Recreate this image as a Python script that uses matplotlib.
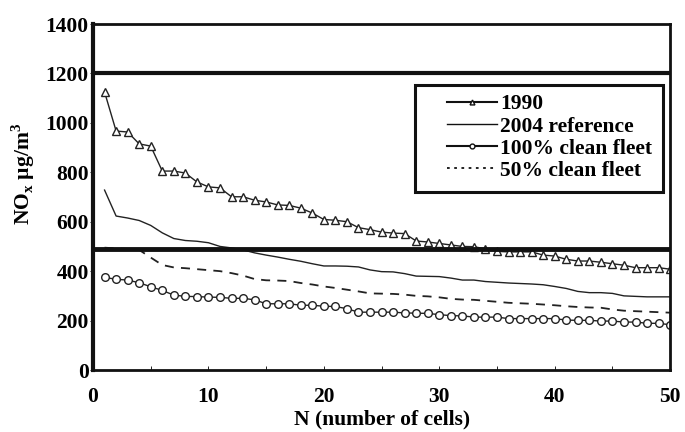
import numpy as np
import matplotlib
matplotlib.use('Agg')
import matplotlib.pyplot as plt
from matplotlib.lines import Line2D
from matplotlib.patches import Rectangle

plt.rcParams['font.family'] = 'Liberation Serif'
plt.rcParams['font.weight'] = 'bold'
plt.rcParams['mathtext.fontset'] = 'custom'
plt.rcParams['mathtext.rm'] = 'Liberation Serif:bold'

n = np.arange(1, 51)
y1990 = [1125, 967, 963, 915, 906, 805, 805, 797, 761, 741,
         737, 701, 701, 687, 680, 668, 666, 655, 635, 609,
         606, 600, 576, 568, 558, 554, 552, 522, 518, 512,
         506, 500, 499, 490, 480, 478, 478, 478, 465, 461,
         448, 441, 441, 436, 430, 424, 414, 414, 414, 408]
y2004 = [728, 623, 615, 605, 585, 555, 532, 524, 521, 515,
         500, 494, 486, 474, 465, 457, 448, 440, 430, 421,
         421, 420, 417, 405, 398, 397, 390, 380, 379, 378,
         372, 364, 364, 358, 355, 352, 350, 348, 345, 338,
         330, 318, 313, 313, 310, 300, 298, 296, 296, 296]
clean100 = [375, 367, 364, 353, 337, 322, 303, 298, 297, 295,
            294, 290, 290, 284, 268, 268, 268, 262, 262, 258,
            257, 248, 234, 234, 234, 234, 231, 230, 229, 224,
            220, 219, 214, 214, 214, 208, 208, 208, 208, 208,
            202, 201, 201, 198, 198, 194, 194, 189, 189, 183]
clean50 = [495, 492, 490, 486, 455, 425, 415, 412, 408, 404,
           400, 392, 382, 368, 363, 362, 360, 352, 346, 338,
           332, 325, 318, 310, 309, 308, 305, 300, 298, 294,
           288, 285, 284, 280, 276, 272, 270, 268, 265, 262,
           258, 255, 253, 252, 245, 240, 238, 236, 234, 232]
limits = [1200, 490]

fs = 15.5
fig = plt.figure(figsize=(6.85, 4.32), dpi=100)
ax = fig.add_axes([0.1358, 0.1435, 0.8425, 0.8009])

ax.plot(n, y1990, color='#222222', lw=1.0, marker='^', ms=6, mfc='white', mec='#222222', mew=1.0)
ax.plot(n, y2004, color='#222222', lw=1.0)
ax.plot(n, clean100, color='#222222', lw=1.0, marker='o', ms=5.5, mfc='white', mec='#222222', mew=1.0)
ax.plot(n, clean50, color='#222222', lw=1.3, ls=(0, (5, 4)))
for lv in limits:
    ax.axhline(lv, color='#111111', lw=3.5 if lv < 1000 else 3.0, xmin=0.004, zorder=3)

ax.set_xlim(0, 50)
ax.set_ylim(0, 1400)
ax.set_xticks(np.arange(0, 51, 10))
ax.set_xticks(np.arange(0, 51, 5), minor=True)
ax.set_yticks(np.arange(0, 1401, 200))
ax.tick_params(axis='x', which='both', direction='in', length=3, width=0.6, pad=12, labelsize=fs)
ax.tick_params(axis='y', direction='out', length=2, width=0.6, labelsize=fs, pad=1)
for lab in ax.get_xticklabels() + ax.get_yticklabels():
    lab.set_fontweight('bold')

ax.spines['left'].set_linewidth(3.0)
ax.spines['bottom'].set_linewidth(2.0)
ax.spines['top'].set_linewidth(2.0)
ax.spines['right'].set_linewidth(2.0)
for s in ax.spines.values():
    s.set_color('#111111')

ax.set_xlabel('N (number of cells)', fontsize=fs, fontweight='bold', labelpad=2)
ax.set_ylabel(r'NO$_\mathregular{x}$ µg/m$^\mathregular{3}$', fontsize=fs, fontweight='bold')
ax.yaxis.set_label_coords(-0.097, 0.566)

# legend box drawn separately (big left margin in the original)
ax.add_patch(Rectangle((0.558, 0.514), 0.43, 0.31, transform=ax.transAxes,
                       fill=False, ec='#111111', lw=2.2, zorder=4))
handles = [
    Line2D([], [], color='#111111', lw=1.5, marker='^', ms=3.5, mfc='white', mec='#111111'),
    Line2D([], [], color='#111111', lw=1.0),
    Line2D([], [], color='#111111', lw=1.5, marker='o', ms=3.5, mfc='white', mec='#111111'),
    Line2D([], [], color='#111111', lw=1.3, ls=(0, (1.5, 2.5))),
]
labels = ['1990', '2004 reference', '100% clean fleet', '50% clean fleet']
leg = ax.legend(handles, labels, loc='upper left', bbox_to_anchor=(0.6135, 0.797),
                fontsize=fs, frameon=False, handlelength=2.3, borderpad=0,
                borderaxespad=0, handletextpad=0.15, labelspacing=0.1)
for t in leg.get_texts():
    t.set_fontweight('bold')

fig.savefig('out.png', dpi=100)
